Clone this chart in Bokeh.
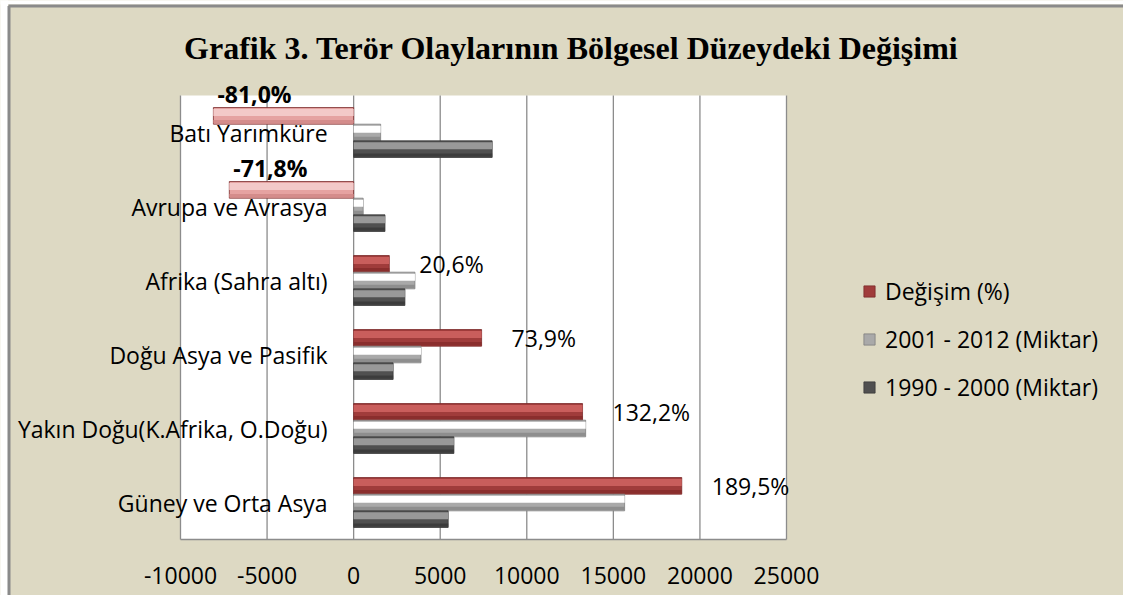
from bokeh.plotting import figure
from bokeh.models import ColumnDataSource, Range1d, Legend, LegendItem, Label
from bokeh.transform import dodge
from bokeh.core.properties import value
from bokeh.embed import file_html
from bokeh.resources import INLINE

# ---- data (top to bottom as in the chart) ----
categories = ["Batı Yarımküre", "Avrupa ve Avrasya", "Afrika (Sahra altı)",
              "Doğu Asya ve Pasifik", "Yakın Doğu(K.Afrika, O.Doğu)", "Güney ve Orta Asya"]
amount_1990_2000 = [8000, 1810, 2960, 2280, 5790, 5460]
amount_2001_2012 = [1560, 550, 3540, 3890, 13400, 15650]
change_pct = [-81.0, -71.8, 20.6, 73.9, 132.2, 189.5]
x_ticks = [-10000, -5000, 0, 5000, 10000, 15000, 20000, 25000]
x_tick_labels = ["-10000", "-5000", "0", "5000", "10000", "15000", "20000", "25000"]
series_names = ["Değişim (%)", "2001 - 2012 (Miktar)", "1990 - 2000 (Miktar)"]
title_text = "Grafik 3. Terör Olaylarının Bölgesel Düzeydeki Değişimi"

# change is plotted on the amount axis scaled by 100 (as in the original sheet)
change_plot = [c * 100 for c in change_pct]

BG = "#DDD9C3"
GRID = "#8C8C8C"
FONT = "Open Sans"
FS = "23px"

W, H = 1123, 595
# plot-area box in canvas pixels
PL, PR, PT, PB = 180, 786, 95, 539
n = len(categories)
kx = (PR - PL) / (x_ticks[-1] - x_ticks[0])      # px per data unit
ky = (PB - PT) / n                                 # px per category
x0 = x_ticks[0] - PL / kx
x1 = x_ticks[0] + (W - PL) / kx
y_top = n - 0.5 + PT / ky
y_bot = -0.5 - (H - PB) / ky

def px2x(px):
    return x0 + px / kx

def px2y(py):
    return y_top - py / ky

p = figure(width=W, height=H, x_range=Range1d(x0, x1), y_range=Range1d(y_bot, y_top),
           output_backend="svg", toolbar_location=None, min_border=0,
           x_axis_location=None, y_axis_location=None)
p.background_fill_color = BG
p.border_fill_color = BG
p.outline_line_color = None
p.grid.visible = False

# white page margin + chart border (as in the reference crop)
p.quad(left=px2x(-5), right=px2x(7.5), bottom=px2y(H + 5), top=px2y(-5),
       fill_color="white", line_color=None)
p.quad(left=px2x(-5), right=px2x(W + 5), bottom=px2y(4), top=px2y(-5),
       fill_color="white", line_color=None)
p.segment(x0=[px2x(8.5), px2x(8)], y0=[px2y(H + 5), px2y(5.5)],
          x1=[px2x(8.5), px2x(W + 5)], y1=[px2y(5.5), px2y(5.5)],
          line_color="#8a8a8a", line_width=3)

# plot area
lo_y, hi_y = -0.5, n - 0.5
p.quad(left=x_ticks[0], right=x_ticks[-1], bottom=lo_y, top=hi_y,
       fill_color="white", line_color=None)
p.segment(x0=x_ticks, y0=[lo_y] * len(x_ticks), x1=x_ticks, y1=[hi_y] * len(x_ticks),
          line_color=GRID, line_width=1.3)
p.segment(x0=[x_ticks[0]], y0=[lo_y], x1=[x_ticks[-1]], y1=[lo_y],
          line_color=GRID, line_width=1.3)
p.text(x=x_ticks, y=[lo_y] * len(x_ticks), text=x_tick_labels, text_align="center",
       text_baseline="middle", y_offset=36, text_font=value(FONT), text_font_size=FS,
       text_color="black")

h = 0.225
offsets = [h, 0.0, -h]
ypos = [n - 1 - i for i in range(n)]

chg_base = ["#E5A2A1" if c < 0 else "#A03C3B" for c in change_pct]
chg_hi = ["#F3C9C8" if c < 0 else "#C95E5C" for c in change_pct]
chg_lo = ["#D48C8B" if c < 0 else "#8A2E2D" for c in change_pct]

src = ColumnDataSource(dict(cat=categories, y=ypos, v1990=amount_1990_2000,
                            v2001=amount_2001_2012, chg=change_plot,
                            cb=chg_base, ch=chg_hi, cl=chg_lo))

styles = [
    ("chg", {"field": "cb"}, {"field": "ch"}, {"field": "cl"}, "#7A2A2A"),
    ("v2001", "#A9A9A9", "#FFFFFF", "#8E8E8E", "#7F7F7F"),
    ("v1990", "#505050", "#999999", "#3C3C3C", "#3A3A3A"),
]

legend_renderers = []
for (col, base, hi, lo, edge), off in zip(styles, offsets):
    r = p.hbar(y=dodge("y", off), left=0, right=col, height=h, fill_color=base,
               line_color=edge, line_width=0.8, source=src)
    fh = 0.42
    p.hbar(y=dodge("y", off + h / 2 - fh * h / 2 - 0.02), left=0, right=col,
           height=fh * h, fill_color=hi, line_color=None, source=src)
    fl = 0.2
    p.hbar(y=dodge("y", off - h / 2 + fl * h / 2 + 0.01), left=0, right=col,
           height=fl * h, fill_color=lo, line_color=None, source=src)
    legend_renderers.append(r)

# category labels next to the zero line
p.text(x=0, y="y", text="cat", source=src, text_align="right", text_baseline="middle",
       x_offset=-26, text_font=value(FONT), text_font_size=FS, text_color="black")

# data labels
fmt = lambda v: f"{v:.1f}".replace(".", ",") + "%"
neg = [i for i, v in enumerate(change_pct) if v < 0]
pos = [i for i, v in enumerate(change_pct) if v >= 0]
neg_src = ColumnDataSource(dict(y=[ypos[i] for i in neg], x=[change_plot[i] for i in neg],
                                t=[fmt(change_pct[i]) for i in neg]))
pos_src = ColumnDataSource(dict(y=[ypos[i] for i in pos], x=[change_plot[i] for i in pos],
                                t=[fmt(change_pct[i]) for i in pos]))
p.text(x="x", y=dodge("y", h), text="t", source=neg_src, text_align="left",
       text_baseline="middle", x_offset=4, y_offset=-22, text_font=value(FONT),
       text_font_size=FS, text_font_style="bold", text_color="black")
p.text(x="x", y=dodge("y", h), text="t", source=pos_src, text_align="left",
       text_baseline="middle", x_offset=30, y_offset=0, text_font=value(FONT),
       text_font_size=FS, text_color="black")

# title
p.add_layout(Label(x=571, y=H - 47, x_units="screen", y_units="screen",
                   text=title_text, text_align="center", text_baseline="middle",
                   text_font="Liberation Serif", text_font_style="bold", text_font_size="32px",
                   text_color="black"))

legend = Legend(items=[LegendItem(label=series_names[0], renderers=[legend_renderers[0]], index=2),
                       LegendItem(label=series_names[1], renderers=[legend_renderers[1]]),
                       LegendItem(label=series_names[2], renderers=[legend_renderers[2]])],
                location=(862, H - 403), glyph_width=14, glyph_height=14, label_standoff=9,
                spacing=16, padding=0, margin=0, border_line_color=None,
                background_fill_alpha=0, label_text_font=FONT, label_text_font_size=FS,
                label_text_color="black", label_height=30)
p.add_layout(legend, "center")

open("out.html", "w").write(file_html(p, INLINE))
